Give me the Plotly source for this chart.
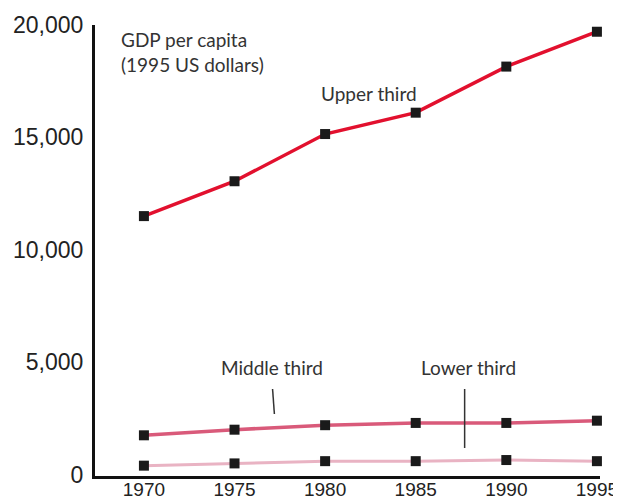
import plotly.graph_objects as go

years = [1970, 1975, 1980, 1985, 1990, 1995]
upper_third = [11500, 13050, 15150, 16100, 18150, 19700]
middle_third = [1750, 2000, 2200, 2300, 2300, 2400]
lower_third = [400, 500, 600, 600, 650, 600]
y_ticks = [0, 5000, 10000, 15000, 20000]
y_tick_labels = ["0", "5,000", "10,000", "15,000", "20,000"]

fig = go.Figure()
series = [
    ("Lower third", lower_third, "#e9b3c3", 3),
    ("Middle third", middle_third, "#d95a7a", 3.5),
    ("Upper third", upper_third, "#e2102e", 3.5),
]
for name, vals, color, w in series:
    fig.add_trace(go.Scatter(
        x=years, y=vals, mode="lines+markers", name=name,
        line=dict(color=color, width=w),
        marker=dict(symbol="square", size=10, color="#1a1a1a"),
        showlegend=False, hoverinfo="skip", cliponaxis=False,
    ))

ann_font = dict(family="Lato, Open Sans, sans-serif", size=19, color="#333333")
fig.add_annotation(x=1968.6, y=19950, xref="x", yref="y", xanchor="left", yanchor="top",
                   text="GDP per capita<br>(1995 US dollars)", showarrow=False, align="left",
                   font=ann_font)
fig.add_annotation(x=1982.4, y=16970, text="Upper third", showarrow=False, font=ann_font)
fig.add_annotation(x=1977.05, y=4745, text="Middle third", showarrow=False, font=ann_font)
fig.add_annotation(x=1987.9, y=4745, text="Lower third", showarrow=False, font=ann_font)

fig.add_shape(type="line", x0=1977.1, y0=3810, x1=1977.2, y1=2700,
              line=dict(color="#333333", width=1.5))
fig.add_shape(type="line", x0=1987.7, y0=3810, x1=1987.7, y1=1185,
              line=dict(color="#333333", width=1.5))

# page body adds an 8px offset; the figure is sized to fill the rest of the window
fig.update_layout(
    width=613, height=491,
    margin=dict(l=87, r=21, t=17, b=23, autoexpand=False),
    paper_bgcolor="white", plot_bgcolor="white",
    font=dict(family="Liberation Sans, Arial, sans-serif", color="#222222"),
)
fig.update_xaxes(
    range=[1967.3, 1995.17], tickvals=years, ticktext=[str(y) for y in years],
    showgrid=False, zeroline=False, showline=True, linecolor="#111111", linewidth=3,
    ticks="", automargin=False, ticklabelstandoff=-6,
    tickfont=dict(size=19, family="Liberation Sans, Arial, sans-serif", color="#222222"),
)
fig.update_yaxes(
    range=[-60, 20000], tickvals=y_ticks, ticktext=y_tick_labels,
    showgrid=False, zeroline=False, showline=True, linecolor="#111111", linewidth=3,
    ticks="", ticklabelstandoff=4, automargin=False,
    tickfont=dict(size=23, family="Liberation Sans, Arial, sans-serif", color="#222222"),
)

fig.write_html("out.html")
